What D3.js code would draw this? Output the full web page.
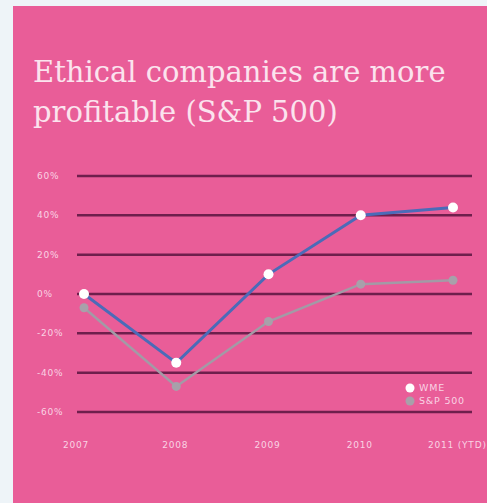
<!DOCTYPE html>
<html>
<head>
<meta charset="utf-8">
<script src="https://cdn.jsdelivr.net/npm/d3@7"></script>
<style>
  body { margin: 0; background: #eef4f8; }
</style>
</head>
<body>
<div id="chart"></div>
<script>
var years = ["2007", "2008", "2009", "2010", "2011 (YTD)"];
var wme = [0, -35, 10, 40, 44];
var sp500 = [-7, -47, -14, 5, 7];
var yTicks = [60, 40, 20, 0, -20, -40, -60];
var seriesNames = ["WME", "S&P 500"];

var width = 487, height = 503;

var svg = d3.select("#chart")
    .append("svg")
    .attr("width", width)
    .attr("height", height);

// pink panel
svg.append("rect")
    .attr("x", 13)
    .attr("y", 6)
    .attr("width", width - 13)
    .attr("height", height - 6)
    .attr("fill", "#e95d98");

// title
var title = svg.append("text")
    .attr("fill", "#fbe3ee")
    .style("font-family", "'DejaVu Serif', serif")
    .style("font-size", "29px");
title.append("tspan").attr("x", 33).attr("y", 82).text("Ethical companies are more");
title.append("tspan").attr("x", 33).attr("y", 122).text("profitable (S&P 500)");

var x = d3.scalePoint()
    .domain(years)
    .range([84, 453]);

var y = d3.scaleLinear()
    .domain([-60, 60])
    .range([412, 176]);

// grid lines
svg.selectAll(".grid")
    .data(yTicks)
    .enter()
    .append("line")
    .attr("x1", 77)
    .attr("x2", 472)
    .attr("y1", function(d) { return y(d); })
    .attr("y2", function(d) { return y(d); })
    .attr("stroke", "#6e1f4c")
    .attr("stroke-width", 2.5);

// y labels
svg.selectAll(".ylab")
    .data(yTicks)
    .enter()
    .append("text")
    .attr("x", 37)
    .attr("y", function(d) { return y(d); })
    .attr("dy", ".35em")
    .attr("fill", "#f9d3e4")
    .style("font-family", "'DejaVu Sans', sans-serif")
    .style("font-size", "9px")
    .style("letter-spacing", "0.8px")
    .text(function(d) { return d + "%"; });

// x labels (first one sits a bit left, last one starts left and runs off the edge)
svg.selectAll(".xlab")
    .data(years)
    .enter()
    .append("text")
    .attr("x", function(d) { return x(d); })
    .attr("y", 445)
    .attr("dy", ".35em")
    .attr("text-anchor", function(d, i) { return i == years.length - 1 ? "start" : "middle"; })
    .attr("dx", function(d, i) {
        if (i == 0) return -8;
        if (i == years.length - 1) return -25;
        return -1;
    })
    .attr("fill", "#f9d3e4")
    .style("font-family", "'DejaVu Sans', sans-serif")
    .style("font-size", "9px")
    .style("letter-spacing", "0.8px")
    .text(function(d) { return d; });

var line = d3.line()
    .x(function(d, i) { return x(years[i]); })
    .y(function(d) { return y(d); });

// S&P 500 line
svg.append("path")
    .datum(sp500)
    .attr("d", line)
    .attr("fill", "none")
    .attr("stroke", "#a39aa6")
    .attr("stroke-width", 2.5);

svg.selectAll(".sp")
    .data(sp500)
    .enter()
    .append("circle")
    .attr("cx", function(d, i) { return x(years[i]); })
    .attr("cy", function(d) { return y(d); })
    .attr("r", 4.5)
    .attr("fill", "#a8a0aa");

// WME line
svg.append("path")
    .datum(wme)
    .attr("d", line)
    .attr("fill", "none")
    .attr("stroke", "#4b6bb8")
    .attr("stroke-width", 3);

svg.selectAll(".wme")
    .data(wme)
    .enter()
    .append("circle")
    .attr("cx", function(d, i) { return x(years[i]); })
    .attr("cy", function(d) { return y(d); })
    .attr("r", 5)
    .attr("fill", "#ffffff");

// legend
var legendColors = ["#ffffff", "#a8a0aa"];
svg.selectAll(".legdot")
    .data(seriesNames)
    .enter()
    .append("circle")
    .attr("cx", 410)
    .attr("cy", function(d, i) { return 388 + i * 13; })
    .attr("r", 4.5)
    .attr("fill", function(d, i) { return legendColors[i]; });

svg.selectAll(".legtext")
    .data(seriesNames)
    .enter()
    .append("text")
    .attr("x", 419)
    .attr("y", function(d, i) { return 388 + i * 13; })
    .attr("dy", ".35em")
    .attr("fill", "#f9d3e4")
    .style("font-family", "'DejaVu Sans', sans-serif")
    .style("font-size", "9.5px")
    .style("letter-spacing", "0.8px")
    .text(function(d) { return d; });
</script>
</body>
</html>
